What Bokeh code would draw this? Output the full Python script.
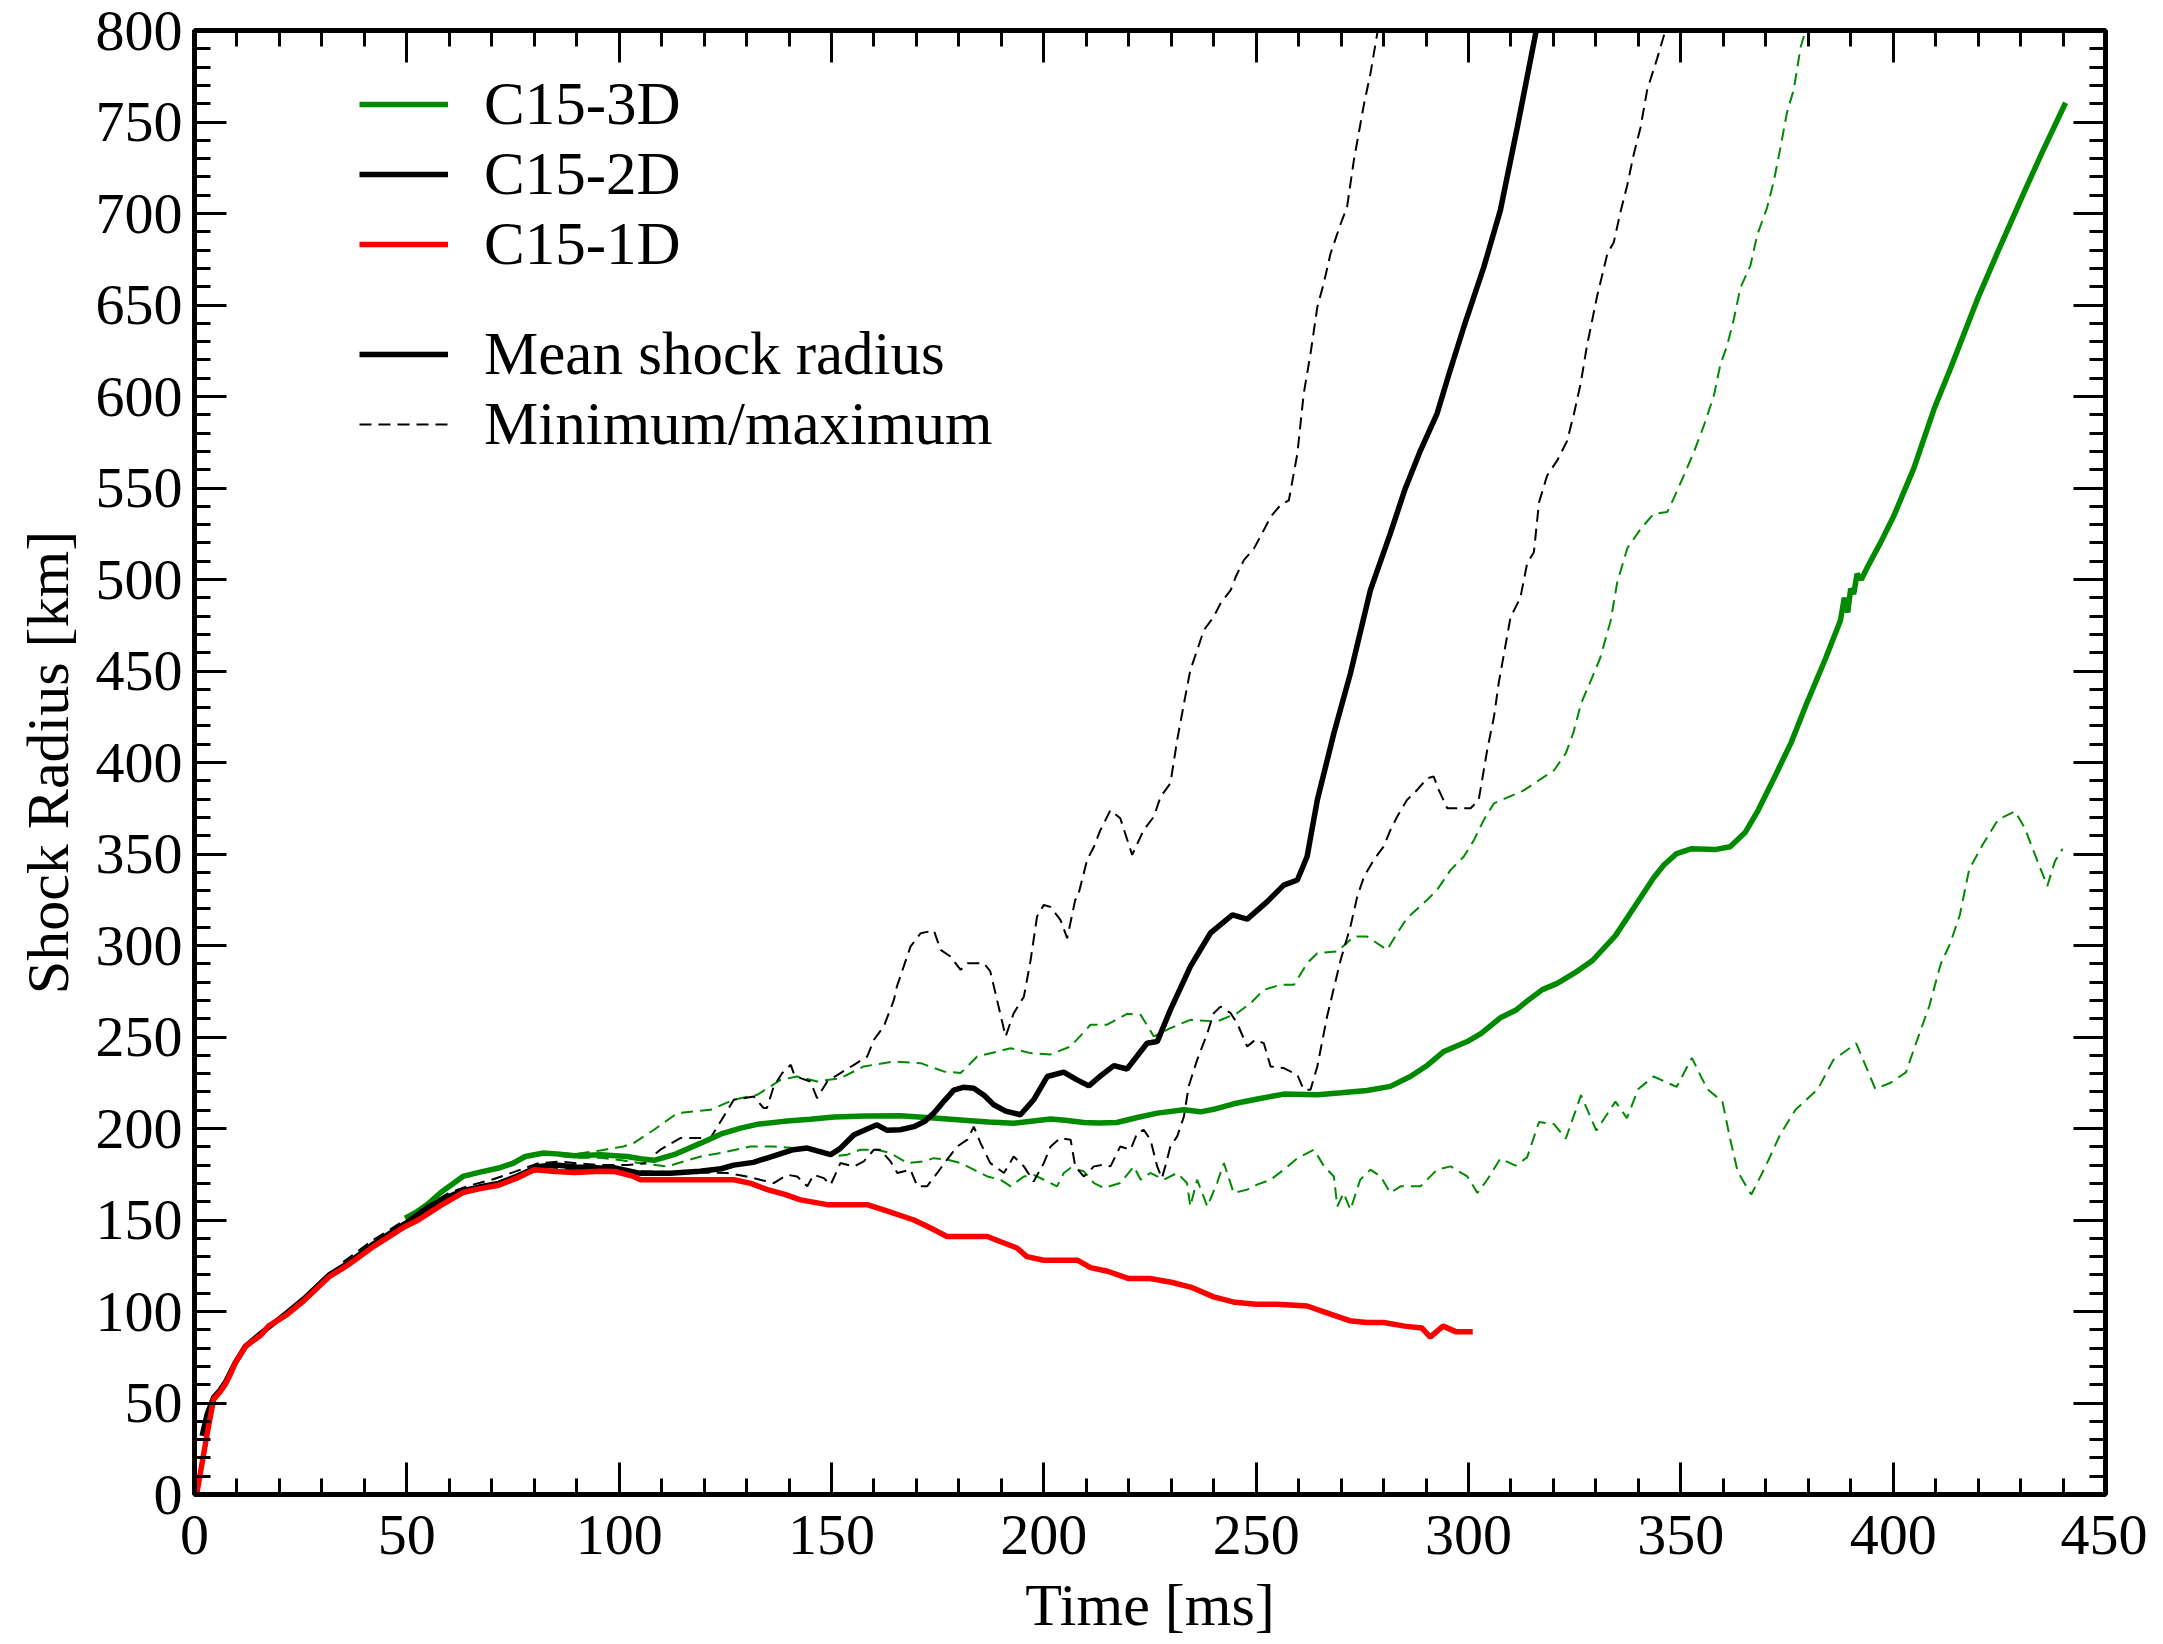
from bokeh.plotting import figure
from bokeh.models import LinearAxis, SingleIntervalTicker, Range1d, Legend, LegendItem
from bokeh.embed import file_html
from bokeh.resources import INLINE

# ---------------- data (time [ms], shock radius [km]) ----------------
x_ticks_interval = 50
y_ticks_interval = 50
x_label = "Time [ms]"
y_label = "Shock Radius [km]"

c15_1d = [(0.5, 0), (2, 20), (3.2, 36), (4.5, 52), (6, 56), (7.2, 60), (8.5, 66), (9.6, 72), (11, 77),
          (12, 81), (15.6, 87), (17.4, 92), (21.6, 98), (25.8, 106), (31.7, 119), (35.9, 125),
          (42.2, 135.6), (49.6, 146.5), (52.7, 150), (58, 158), (63.2, 165), (67, 167), (71.6, 169),
          (76, 173), (80, 177.5), (85, 176.5), (89.5, 176), (95.6, 176.6), (99, 176.5), (103.4, 173.8),
          (105, 172), (115, 172), (127, 172), (131, 170), (134.9, 166.6), (139, 164), (142.7, 161),
          (149, 158.4), (154, 158.4), (158.4, 158.4), (163, 155), (169.4, 150), (173, 146),
          (177.2, 141), (182, 141), (186.7, 141), (190, 138), (193.7, 134.7), (196, 130), (200, 128),
          (204, 128), (208, 128), (211, 124), (215, 122), (220, 118), (225, 118), (230, 116),
          (235, 113), (240, 108), (245, 105), (250, 104), (255, 104), (262, 103), (267, 99),
          (272, 95), (276, 94), (280, 94), (285, 92), (289, 91), (291, 86), (294, 92), (297, 89),
          (301, 89)]

c15_2d_mean = [(1.8, 32), (3, 44), (4.5, 53), (6, 57), (7.2, 61), (9.6, 72), (12, 81), (15.6, 88),
               (21.6, 99), (25.8, 107), (31.7, 120), (35.9, 126), (42.2, 137), (49.6, 148), (55, 157),
               (60, 163), (63.2, 166), (67, 168), (71.6, 170), (76, 174), (81, 179.3), (85, 180),
               (90, 179), (95.6, 178.4), (99, 178.5), (105, 175.5), (112, 175.5), (119, 176.6),
               (124, 178), (127, 180), (131.6, 181.5), (135, 184), (141, 188.4), (144.3, 189.3),
               (149.8, 185.7), (152, 189), (155.3, 196.6), (160.7, 202), (163.1, 199), (166.2, 199.3),
               (169.4, 201), (172, 204), (174.1, 208.4), (176.5, 215), (178.8, 221), (181, 222.5),
               (183.5, 222), (186, 218), (188.2, 213), (191, 209.5), (194.5, 207.5), (197.6, 215.7),
               (200.8, 228.4), (204.7, 230.8), (207.5, 227), (210.6, 223.3), (213.5, 229),
               (216.5, 234.4), (219.6, 232.5), (224.3, 246.6), (226.7, 247.5), (229.8, 264.8),
               (234.5, 288.5), (239.2, 306.7), (244.4, 316.7), (247.9, 314.4), (252.6, 324),
               (256.5, 333), (259.7, 335.8), (262, 348.6), (264.4, 379.5), (268.3, 416),
               (272.2, 448.7), (276.9, 494.2), (281.6, 525.2), (285, 549), (288.7, 570.6),
               (292.6, 590.7), (295.5, 613), (298.9, 638), (303.6, 670.7), (307.5, 701.7),
               (311.5, 747.2), (315.8, 798.2), (317, 812)]

c15_2d_max = [(35, 127), (42, 139), (49.6, 150), (55, 158), (60, 165), (65, 169), (70, 172), (75, 176),
              (81, 181), (86, 182), (90, 181), (95.6, 180), (101.9, 180), (105.8, 181), (109.7, 188.4),
              (114.4, 194.8), (121.5, 194.8), (122.7, 199.3), (127, 215.7), (131.7, 217.5),
              (134, 211.2), (134.8, 211.2), (136.4, 223), (138.4, 230.3), (140.4, 234.8),
              (141.1, 230.3), (142.7, 227.5), (145, 225.7), (146.6, 216.6), (149, 225.7),
              (152.1, 230.3), (155.3, 234.8), (158.4, 239.3), (160, 248.5), (162.3, 255.7),
              (164.7, 270.3), (165.4, 277.6), (168.6, 299.4), (171, 306.7), (174.1, 308.2),
              (175.7, 297.6), (178, 294), (180.4, 286.7), (182, 290.3), (185.9, 290.3), (187.4, 285.8),
              (191, 250.3), (192.9, 263), (195.3, 272), (196.9, 292.2), (198.4, 315.8), (200, 322.2),
              (201.6, 321), (203.9, 314), (205.5, 304), (207.4, 325), (208, 326.7), (210.2, 346.8),
              (211.8, 354), (213.3, 363), (215.7, 374), (218, 369.5), (220.8, 349.5), (223.5, 363),
              (225.9, 370.4), (227.5, 381.3), (229.8, 388.6), (231.4, 412.3), (233, 432.3),
              (234.5, 450.5), (236.1, 461.4), (237.7, 472.4), (240, 479.6), (241.6, 486.9),
              (244, 494.2), (245.2, 501.5), (247.1, 510.6), (249.5, 517), (251.8, 527), (253.4, 534.2),
              (255.7, 540.6), (257.7, 543.3), (259.7, 568.8), (261.2, 601.6), (262.8, 623.4),
              (264.4, 648.9), (265.9, 661.7), (267.5, 678), (269.9, 694.4), (271.4, 703.5), (273, 729),
              (275.4, 759.9), (276.9, 776.3), (278.5, 798.2), (280, 810)]

c15_2d_min = [(35, 124), (42, 136), (49.6, 147), (55, 156), (60, 162), (65, 166), (70, 169), (75, 173),
              (81, 177), (86, 178), (90, 177), (95.6, 177), (101.9, 177), (105.8, 176.6), (115, 176),
              (125.4, 175.7), (130, 173.8), (136.4, 170.2), (139.6, 174.7), (141.9, 173.8),
              (144.3, 168.4), (145.8, 174.7), (148.2, 172.9), (149.8, 169.3), (152.1, 181.1),
              (155.3, 179.3), (157.6, 182), (160, 188.4), (161.5, 188.4), (163.9, 182), (165.5, 175.7),
              (168.6, 177.5), (170.2, 168.4), (172.5, 168.4), (174.9, 175.7), (177.2, 183),
              (179.6, 190.2), (182, 193.9), (183.5, 201), (185.1, 192), (187.4, 181.1), (190.6, 175.7),
              (192.9, 184.7), (195.3, 179.3), (197.6, 171), (200, 181.1), (201.6, 190.2),
              (203.9, 194.8), (206.3, 193.9), (207.4, 179.3), (209.4, 173.8), (211.8, 179.3),
              (214.1, 180.2), (215.7, 179.3), (218, 190.2), (220.4, 188.4), (222, 197.5),
              (223.5, 199.3), (225.1, 193.9), (226.7, 179.3), (227.8, 172.9), (228.6, 179.3),
              (229.8, 190.2), (231.4, 195.7), (233, 206.6), (234.1, 223), (236.1, 237.5),
              (238.5, 252.1), (240, 263), (241.6, 266.6), (244, 263), (245.5, 257.6), (247.9, 244.8),
              (249.8, 248.5), (251.8, 246.6), (253.4, 233.9), (256.5, 233), (259.7, 229.3),
              (261.2, 221.2), (262.8, 221.2), (264.4, 233.9), (266.7, 261.2), (269.9, 292.2),
              (272.2, 310.3), (273.8, 326.7), (275.4, 337.6), (277.7, 346.8), (280, 354), (281.6, 363),
              (283.2, 370.4), (285.5, 379.5), (287.9, 385), (290.3, 391.4), (291.8, 392.3), (293, 385),
              (295, 375), (300.5, 375), (302.4, 379.5), (304.4, 406.8), (306, 425), (307.1, 443.2),
              (309.9, 479.4), (312.2, 489.9), (313.8, 508.7), (315.4, 514.9), (316.6, 542.1),
              (318.5, 556.7), (320.9, 565.1), (323.2, 575.6), (324.8, 590.2), (326.4, 606.9),
              (327.9, 627.8), (330.3, 655), (332.7, 678), (334.2, 684.2), (335.8, 700.9),
              (337.4, 715.6), (338.9, 732.3), (340.5, 746.9), (342.1, 767.8), (344.4, 784.5),
              (346, 797.1), (347, 805)]

c15_3d_mean = [(49.6, 151), (52, 154), (54.8, 158.4), (58, 165), (63.2, 173.8), (67, 176), (71.6, 178.4),
               (75, 181), (77.9, 184.7), (82.2, 186.6), (86, 186), (89.5, 185.1), (95.6, 185.7),
               (101.9, 184.7), (105, 183.5), (108.2, 182.6), (112.9, 185.7), (119.2, 192), (124, 197),
               (128.6, 200.2), (133, 202.5), (138.8, 203.9), (145, 205), (150.6, 206.3), (158, 206.8),
               (166.2, 207), (174.1, 205.7), (182, 204.4), (187, 203.5), (192.9, 202.9), (197, 204),
               (201.6, 205.2), (205, 204.5), (209.4, 203.3), (213, 203), (217.2, 203.3), (222, 206),
               (226.7, 208.4), (233, 210.2), (236.9, 209.1), (240, 210.5), (244.7, 213.5), (250, 216),
               (256.5, 218.8), (264.4, 218.4), (270, 219.5), (276.1, 220.8), (281.6, 223),
               (286.3, 228.4), (290, 234), (294.2, 242.1), (299.7, 247.5), (303, 252), (307.5, 260.5),
               (311.1, 264.6), (314, 270), (317.4, 275.9), (320.9, 279.3), (325, 285), (329.2, 291.8),
               (334.6, 305.4), (339.1, 321.2), (343.6, 337), (346, 344), (349, 350.2), (352.6, 352.9),
               (358, 352.4), (361.6, 354), (365.2, 361.9), (368, 373), (372.4, 393.6), (376, 411),
               (379.6, 432.1), (384.1, 457), (387.6, 477.8), (388.5, 490), (389.3, 482), (390, 495),
               (390.7, 492), (391.5, 503), (392.5, 500), (393.9, 506.6), (397, 520), (400.2, 535),
               (404.9, 561), (409.6, 593), (413.5, 615.3), (419.8, 652.9), (425, 681), (430.8, 711.4),
               (435, 733), (440.6, 760.5)]

c15_3d_max = [(49.6, 151), (54.8, 158.4), (63.2, 173.8), (71.6, 178.4), (77.9, 184.7), (82.2, 187),
              (89.5, 186), (95.6, 188), (101, 190.2), (103.4, 192), (108.2, 199.3), (113.7, 208.4),
              (121.5, 210.2), (127, 215.7), (132.5, 218.4), (138, 226.6), (141.9, 228.4),
              (146.6, 225.7), (152.1, 227.5), (157.6, 233.9), (164.7, 236.6), (171, 235.7),
              (176.4, 231.2), (180.4, 230.3), (184.3, 239.3), (192.2, 243.9), (196.9, 241.2),
              (201.6, 240.5), (206.3, 244.8), (211, 256.7), (214.9, 256.7), (219.6, 262.7),
              (222.8, 262.1), (225.9, 250.3), (229.8, 254.8), (234.5, 259.4), (240.8, 258.5),
              (245.5, 263), (248.7, 268.5), (251.8, 275.8), (255.7, 278.5), (258.9, 278.5), (262, 290.3),
              (264.4, 295.8), (269.1, 296.7), (273, 304.9), (276.1, 304.9), (280.8, 297.6),
              (283.2, 306.7), (285.5, 314.9), (290.3, 325), (292.6, 330.4), (295.8, 341.3),
              (298.9, 348.6), (301.3, 357.7), (303.6, 368.6), (306, 377.7), (308.4, 380.1),
              (312.9, 384.6), (320.2, 395.9), (322.9, 405), (324.7, 416.3), (326.5, 432.2),
              (329.2, 446.9), (331, 457), (333.5, 477.6), (335, 498.2), (337.4, 517.1), (340.5, 527.5),
              (343.6, 535.9), (346.8, 536.9), (348.3, 544.2), (350.7, 556.8), (353, 569.3),
              (355.4, 583.9), (357.8, 600.7), (359.3, 617.4), (360.9, 627.8), (362.5, 642.5),
              (364, 659.2), (366.4, 671.7), (368, 688.4), (370.3, 703.1), (371.9, 717.7),
              (373.5, 736.5), (375, 755.3), (376.6, 767.8), (378.2, 790.8), (379, 797.1), (380, 805)]

c15_3d_min = [(49.6, 151), (54.8, 158.4), (63.2, 173.8), (71.6, 178.4), (77.9, 184.7), (82.2, 186),
              (89.5, 184), (95.6, 184), (101, 182.5), (105, 181), (111.3, 179.3), (119.2, 184.7),
              (123.9, 186.6), (130.9, 190.2), (136.4, 190.2), (141.1, 189.3), (146.6, 189.3),
              (150.6, 184.7), (153.7, 185.7), (156.8, 188.4), (160.7, 188.4), (163.9, 186.6),
              (167.8, 181.1), (171.7, 182), (174.1, 183.8), (177.2, 183), (180.4, 181.1),
              (183.5, 177.5), (186.7, 173.8), (189.8, 172), (192.2, 168.4), (195.3, 173.8),
              (197.6, 174.7), (200, 172), (201.6, 170.2), (203.1, 168.4), (204.7, 175.7),
              (206.3, 178.4), (209.4, 176.6), (211.8, 170.2), (214.1, 167.5), (218, 170.2),
              (221.2, 179.3), (222.8, 172), (225.1, 175.7), (228.2, 172), (231.4, 175.7),
              (233.7, 170.2), (234.5, 157.4), (236.1, 172), (238.5, 157.4), (240.8, 170.2),
              (242.4, 181.1), (244.7, 164.8), (247.9, 166.6), (250.2, 169.3), (253.4, 172),
              (256.5, 177.5), (259.7, 183.8), (263.6, 188.4), (266, 179.3), (268.3, 173.8),
              (269.1, 157.4), (270.6, 164.8), (272.2, 155.6), (274.5, 172), (276.9, 177.5),
              (279.3, 173.8), (281.6, 164.8), (284, 168.4), (286.3, 168.4), (288.7, 168.4),
              (292.6, 177.5), (295.8, 179.3), (299.7, 173.8), (302.1, 164.8), (304.4, 172),
              (307.5, 183.5), (311.1, 179.7), (313.8, 184.2), (316.6, 203.5), (320.2, 202.3),
              (322.9, 194.4), (326.5, 218.2), (330.1, 198.9), (334.6, 214.7), (337.3, 205.7),
              (340, 221.6), (343.6, 228.4), (349, 222.7), (352.6, 238.6), (356.2, 221.6),
              (359.8, 214.7), (361.6, 194.4), (363.4, 176.3), (366.6, 163.9), (369.8, 178.6),
              (373.4, 196.7), (377, 210.3), (382.3, 221.6), (385.9, 237.4), (391.3, 246.5),
              (395.8, 221.6), (399.4, 225), (403, 230.7), (405.7, 248.7), (408.5, 266.9),
              (411.2, 289.9), (413.4, 300.9), (415.7, 316.7), (417.9, 341.6), (421.1, 355.2),
              (424.7, 368.8), (428.7, 373.3), (431, 364.2), (433.6, 348.4), (436.3, 332.5),
              (438.1, 346.1), (439.9, 352.9)]

GREEN = "#008a00"
RED = "#ff0000"
BLACK = "#000000"
FONT = "Liberation Serif"
DASH = "12 7"


def split(pts):
    return [a for a, _ in pts], [b for _, b in pts]


p = figure(width=2147, height=1640, output_backend="svg", toolbar_location=None,
           x_range=Range1d(0, 450), y_range=Range1d(0, 800),
           min_border_left=194, min_border_right=42, min_border_top=30, min_border_bottom=145,
           x_axis_label=x_label, y_axis_label=y_label)
p.grid.visible = False
p.outline_line_color = BLACK
p.outline_line_width = 5
p.background_fill_color = "white"
p.border_fill_color = "white"


def style_axis(ax, interval, show_labels):
    ax.ticker = SingleIntervalTicker(interval=interval, num_minor_ticks=5)
    ax.axis_line_width = 5
    ax.axis_line_color = BLACK
    ax.major_tick_in = 32
    ax.major_tick_out = 0
    ax.minor_tick_in = 16
    ax.minor_tick_out = 0
    ax.major_tick_line_width = 3
    ax.minor_tick_line_width = 3
    ax.major_tick_line_color = BLACK
    ax.minor_tick_line_color = BLACK
    if show_labels:
        ax.major_label_text_font = FONT
        ax.major_label_text_font_size = "58px"
        ax.major_label_text_color = BLACK
        ax.axis_label_text_font = FONT
        ax.axis_label_text_font_size = "60px"
        ax.axis_label_text_font_style = "normal"
        ax.axis_label_text_color = BLACK
    else:
        ax.major_label_text_color = None
        ax.major_label_text_font_size = "1px"
        ax.major_label_standoff = 0


style_axis(p.xaxis[0], x_ticks_interval, True)
style_axis(p.yaxis[0], y_ticks_interval, True)
p.xaxis[0].major_label_standoff = 21
p.xaxis[0].axis_label_standoff = 15
p.yaxis[0].major_label_standoff = 12
p.yaxis[0].axis_label_standoff = 12

top_ax = LinearAxis()
right_ax = LinearAxis()
style_axis(top_ax, x_ticks_interval, False)
style_axis(right_ax, y_ticks_interval, False)
p.add_layout(top_ax, "above")
p.add_layout(right_ax, "right")

# dashed min/max
t, r = split(c15_3d_max)
p.line(t, r, line_color=GREEN, line_width=2, line_dash=DASH)
t, r = split(c15_3d_min)
p.line(t, r, line_color=GREEN, line_width=2, line_dash=DASH)
t, r = split(c15_2d_max)
r_dash = p.line(t, r, line_color=BLACK, line_width=2, line_dash=DASH)
t, r = split(c15_2d_min)
p.line(t, r, line_color=BLACK, line_width=2, line_dash=DASH)

# means
t, r = split(c15_3d_mean)
r_3d = p.line(t, r, line_color=GREEN, line_width=5.5)
t, r = split(c15_2d_mean)
r_2d = p.line(t, r, line_color=BLACK, line_width=5.5)
t, r = split(c15_1d)
r_1d = p.line(t, r, line_color=RED, line_width=5.5)


def make_legend(items, loc):
    lg = Legend(items=items, location=loc)
    lg.padding = 0
    lg.margin = 0
    lg.spacing = 0
    lg.border_line_color = None
    lg.background_fill_alpha = 0
    lg.glyph_width = 89
    lg.glyph_height = 20
    lg.label_height = 70
    lg.label_standoff = 36
    lg.label_text_font = FONT
    lg.label_text_font_size = "61px"
    lg.label_text_baseline = "middle"
    lg.label_text_color = BLACK
    return lg


leg1 = make_legend([LegendItem(label="C15-3D", renderers=[r_3d]),
                    LegendItem(label="C15-2D", renderers=[r_2d]),
                    LegendItem(label="C15-1D", renderers=[r_1d])], (165, 1215))
leg2 = make_legend([LegendItem(label="Mean shock radius", renderers=[r_2d]),
                    LegendItem(label="Minimum/maximum", renderers=[r_dash])], (165, 1035))
p.add_layout(leg1, "center")
p.add_layout(leg2, "center")

open("out.html", "w").write(file_html(p, INLINE))
